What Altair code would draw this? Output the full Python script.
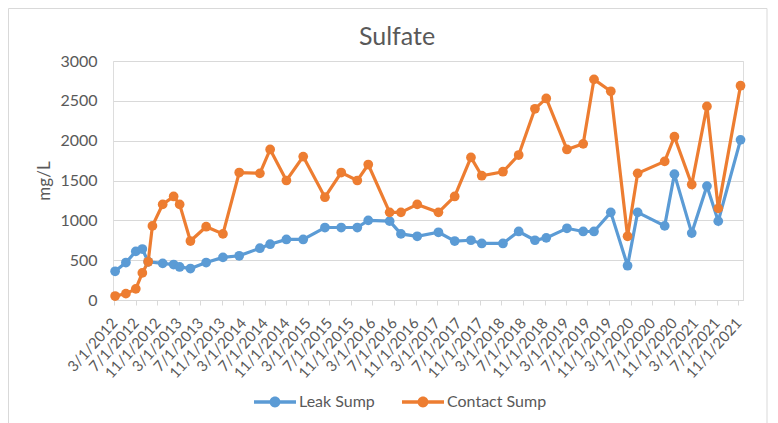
import altair as alt
import pandas as pd

series_names = ["Leak Sump", "Contact Sump"]
series_colors = ["#5B9BD5", "#ED7D31"]

leak_dates = [
    "2012-03-07", "2012-05-07", "2012-07-02", "2012-08-08", "2012-09-10",
    "2012-12-01", "2013-02-01", "2013-03-07", "2013-05-07", "2013-08-04",
    "2013-11-07", "2014-02-07", "2014-06-04", "2014-08-01", "2014-11-01",
    "2015-02-04", "2015-06-07", "2015-09-07", "2015-12-07", "2016-02-07",
    "2016-06-07", "2016-08-10", "2016-11-10", "2017-03-10", "2017-06-10",
    "2017-09-10", "2017-11-10", "2018-03-10", "2018-06-07", "2018-09-07",
    "2018-11-10", "2019-03-07", "2019-06-07", "2019-08-07", "2019-11-10",
    "2020-02-13", "2020-04-10", "2020-09-10", "2020-11-04", "2021-02-10",
    "2021-05-07", "2021-07-10", "2021-11-13",
]
leak_values = [
    360, 470, 610, 640, 480,
    460, 445, 415, 395, 470,
    535, 555, 650, 700, 760,
    760, 910, 910, 910, 1000,
    990, 830, 800, 850, 740,
    750, 710, 710, 860, 750,
    780, 900, 860, 860, 1100,
    430, 1100, 930, 1580, 840,
    1430, 990, 2010,
]

contact_dates = [
    "2012-03-07", "2012-05-07", "2012-07-02", "2012-08-08", "2012-09-10",
    "2012-10-04", "2012-12-01", "2013-02-01", "2013-03-07", "2013-05-07",
    "2013-08-04", "2013-11-07", "2014-02-07", "2014-06-04", "2014-08-01",
    "2014-11-01", "2015-02-04", "2015-06-07", "2015-09-07", "2015-12-07",
    "2016-02-07", "2016-06-07", "2016-08-10", "2016-11-10", "2017-03-10",
    "2017-06-10", "2017-09-10", "2017-11-10", "2018-03-10", "2018-06-07",
    "2018-09-07", "2018-11-10", "2019-03-07", "2019-06-07", "2019-08-07",
    "2019-11-10", "2020-02-13", "2020-04-10", "2020-09-10", "2020-11-04",
    "2021-02-10", "2021-05-07", "2021-07-10", "2021-11-13",
]
contact_values = [
    50, 80, 140, 340, 480,
    930, 1200, 1300, 1200, 740,
    920, 830, 1600, 1590, 1890,
    1500, 1800, 1290, 1600, 1500,
    1700, 1100, 1100, 1200, 1100,
    1300, 1790, 1560, 1610, 1820,
    2400, 2530, 1890, 1960, 2770,
    2620, 800, 1590, 1740, 2050,
    1450, 2430, 1150, 2690,
]

tick_dates = [
    "2012-03-01", "2012-07-01", "2012-11-01",
    "2013-03-01", "2013-07-01", "2013-11-01",
    "2014-03-01", "2014-07-01", "2014-11-01",
    "2015-03-01", "2015-07-01", "2015-11-01",
    "2016-03-01", "2016-07-01", "2016-11-01",
    "2017-03-01", "2017-07-01", "2017-11-01",
    "2018-03-01", "2018-07-01", "2018-11-01",
    "2019-03-01", "2019-07-01", "2019-11-01",
    "2020-03-01", "2020-07-01", "2020-11-01",
    "2021-03-01", "2021-07-01", "2021-11-01",
]
x_domain = ["2012-02-24", "2021-11-27"]
y_ticks = [0, 500, 1000, 1500, 2000, 2500, 3000]

df = pd.concat([
    pd.DataFrame({"date": leak_dates, "value": leak_values, "series": series_names[0]}),
    pd.DataFrame({"date": contact_dates, "value": contact_values, "series": series_names[1]}),
], ignore_index=True)


def dt(s):
    y, m, d = (int(p) for p in s.split("-"))
    return alt.DateTime(year=y, month=m, date=d, utc=True)


FONT = "Lato"
TXT = "#595959"
GRID = "#D9D9D9"

x_enc = alt.X(
    "date:T",
    scale=alt.Scale(type="utc", domain=[dt(s) for s in x_domain]),
    axis=alt.Axis(
        values=[dt(s) for s in tick_dates],
        format="%-m/%-d/%Y",
        labelAngle=-48,
        labelAlign="right",
        labelBaseline="middle",
        labelOverlap=False,
        labelFlush=False,
        labelPadding=15,
        labelFontSize=15,
        labelColor=TXT,
        labelFont=FONT,
        grid=False,
        domainColor=GRID,
        tickColor=GRID,
        tickSize=5,
        title=None,
    ),
)

y_enc = alt.Y(
    "value:Q",
    scale=alt.Scale(domain=[0, 3000], nice=False),
    axis=alt.Axis(
        values=y_ticks,
        format="d",
        grid=True,
        gridColor=GRID,
        gridWidth=1,
        domain=False,
        ticks=False,
        tickSize=0,
        labelPadding=16,
        labelFontSize=16,
        labelColor=TXT,
        labelFont=FONT,
        title="mg/L",
        titleFont=FONT,
        titleFontSize=17,
        titleFontWeight="normal",
        titleColor=TXT,
        titlePadding=6,
    ),
)

legend_symbol = (
    "M-1,-0.085H1V0.085H-1Z "
    "M0.26,0A0.26,0.26 0 1,1 -0.26,0A0.26,0.26 0 1,1 0.26,0Z"
)

color_enc = alt.Color(
    "series:N",
    scale=alt.Scale(domain=series_names, range=series_colors),
    legend=alt.Legend(
        title=None,
        orient="none",
        direction="horizontal",
        legendX=141,
        legendY=320,
        symbolType=legend_symbol,
        symbolSize=1764,
        symbolStrokeWidth=0,
        symbolOpacity=1,
        labelFont=FONT,
        labelFontSize=16,
        labelColor=TXT,
        labelOffset=3,
        columnPadding=27,
        padding=0,
    ),
)

base = alt.Chart(df).encode(
    x=x_enc,
    y=y_enc,
    color=color_enc,
    detail="series:N",
)

lines = base.mark_line(strokeWidth=3.2)
points = base.mark_point(filled=True, size=95, opacity=1)

# light chart-area frame like the spreadsheet chart border
frame = alt.Chart(pd.DataFrame({"frame": [0]})).mark_rect(
    fillOpacity=0, stroke="#D9D9D9", strokeWidth=1
).encode(
    x=alt.value(-104.5),
    x2=alt.value(654),
    y=alt.value(-52.5),
    y2=alt.value(400),
)

chart = (
    alt.layer(frame, lines, points)
    .properties(
        width=630,
        height=239,
        padding={"left": 105, "top": 53, "right": 27, "bottom": 123},
        autosize=alt.AutoSizeParams(type="none"),
        title=alt.Title(
            "Sulfate",
            font=FONT,
            fontSize=25,
            fontWeight="normal",
            color=TXT,
            anchor="middle",
            frame="group",
            baseline="alphabetic",
            offset=16,
            dx=-31,
            dy=78,
        ),
    )
    .configure_view(stroke=None)
    .configure(background="white")
)

chart.save("out.html", embed_options={"renderer": "svg", "actions": False})
